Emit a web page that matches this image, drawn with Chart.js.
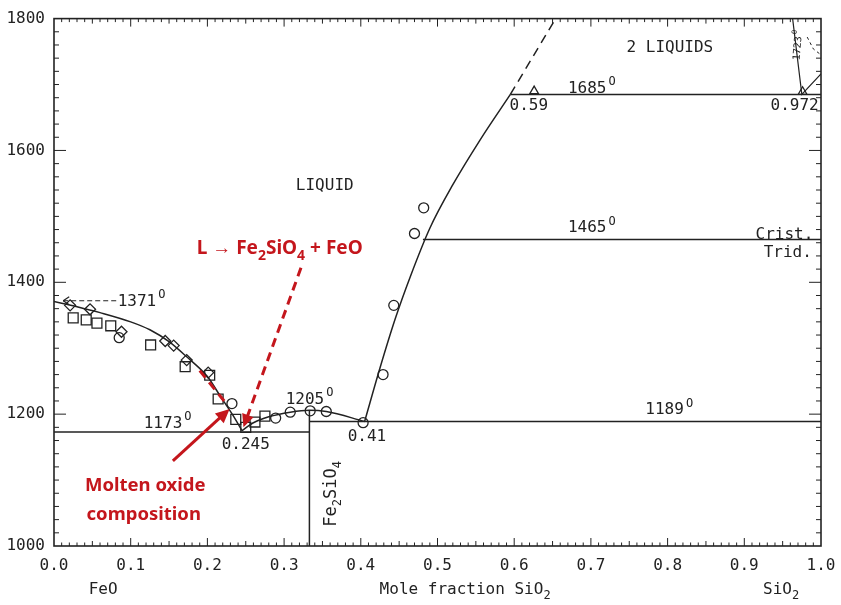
<!DOCTYPE html>
<html>
<head>
<meta charset="utf-8">
<script src="https://cdn.jsdelivr.net/npm/chart.js@4.4.1/dist/chart.umd.min.js"></script>
<style>
  html, body { margin: 0; padding: 0; background: #fff; }
</style>
</head>
<body>
<canvas id="c" width="841" height="605"></canvas>
<script>
// FeO - SiO2 phase diagram
var leftLiqX = [0, 0.03, 0.06, 0.1, 0.125, 0.15, 0.173, 0.2, 0.217, 0.234, 0.245];
var leftLiqY = [1371, 1363, 1354, 1340, 1328, 1310, 1287, 1257, 1227, 1197, 1175];
var fayLiqX = [0.245, 0.26, 0.28, 0.308, 0.333, 0.355, 0.405];
var fayLiqY = [1175, 1187, 1196, 1203, 1206, 1204, 1189];
var silLiqX = [0.405, 0.425, 0.445, 0.465, 0.49, 0.52, 0.555, 0.595];
var silLiqY = [1189, 1270, 1345, 1410, 1482, 1548, 1615, 1685];
var silDashX = [0.595, 0.654];
var silDashY = [1685, 1800];
var isoT = [1173, 1189, 1465, 1685];
var isoFrom = [0, 0.333, 0.481, 0.595];
var isoTo = [0.333, 1, 1, 1];
var compX = [0.333, 0.333];
var compY = [1000, 1206];
var feoMeltX = [0.012, 0.082];
var feoMeltY = [1372, 1372];
var cornerX = [0.963, 0.975, 1.0];
var cornerY = [1800, 1685, 1716];
var cornerDashX = [0.982, 0.99, 1.0];
var cornerDashY = [1772, 1754, 1745];

var squareX = [0.025, 0.042, 0.056, 0.074, 0.126, 0.171, 0.203, 0.214, 0.237, 0.25, 0.262, 0.275];
var squareY = [1346, 1343, 1338, 1334, 1305, 1272, 1259, 1223, 1192, 1180, 1188, 1197];
var diamondX = [0.021, 0.047, 0.088, 0.145, 0.156, 0.173, 0.201];
var diamondY = [1365, 1359, 1325, 1311, 1304, 1282, 1263];
var circleX = [0.085, 0.232, 0.289, 0.308, 0.334, 0.355, 0.403, 0.429, 0.443, 0.47, 0.482];
var circleY = [1316, 1216, 1194, 1203, 1205, 1204, 1187, 1260, 1365, 1474, 1513];
var triX = [0.626, 0.976];
var triY = [1690, 1689];

var redDashX = [0.322, 0.247];
var redDashY = [1422, 1180];
var redAlongX = [0.19, 0.226];
var redAlongY = [1266, 1214];
var redArrowX = [0.155, 0.229];
var redArrowY = [1129, 1208];

var xTicks = [0, 0.1, 0.2, 0.3, 0.4, 0.5, 0.6, 0.7, 0.8, 0.9, 1.0];
var yTicks = [1000, 1200, 1400, 1600, 1800];

var ink = '#222';
var red = '#c4161c';
var mono = '"DejaVu Sans Mono", "Liberation Mono", monospace';
var sans = '"Noto Sans", "Open Sans", sans-serif';

function pts(xs, ys) {
  return xs.map(function(x, i) { return { x: x, y: ys[i] }; });
}

function lineSet(xs, ys, extra) {
  var d = {
    data: pts(xs, ys),
    showLine: true,
    borderColor: ink,
    borderWidth: 1.5,
    pointRadius: 0,
    fill: false
  };
  for (var k in extra) d[k] = extra[k];
  return d;
}

function markSet(xs, ys, style, r) {
  return {
    data: pts(xs, ys),
    showLine: false,
    pointStyle: style,
    pointRadius: r,
    borderColor: ink,
    borderWidth: 1.3,
    backgroundColor: 'rgba(0,0,0,0)'
  };
}

var datasets = [
  lineSet(leftLiqX, leftLiqY, { cubicInterpolationMode: 'monotone' }),
  lineSet(fayLiqX, fayLiqY, { cubicInterpolationMode: 'monotone' }),
  lineSet(silLiqX, silLiqY, { cubicInterpolationMode: 'monotone' }),
  lineSet(silDashX, silDashY, { borderDash: [9, 6] }),
  lineSet(compX, compY, {}),
  lineSet(feoMeltX, feoMeltY, { borderDash: [5, 3], borderWidth: 1.2 }),
  lineSet(cornerX, cornerY, { borderWidth: 1.2 }),
  lineSet(cornerDashX, cornerDashY, { borderDash: [3, 3], borderWidth: 1 })
];
isoT.forEach(function(t, i) {
  datasets.push(lineSet([isoFrom[i], isoTo[i]], [t, t], {}));
});
datasets.push(markSet(squareX, squareY, 'rect', 7));
datasets.push(markSet(diamondX, diamondY, 'rectRot', 5.5));
datasets.push(markSet(circleX, circleY, 'circle', 5));
datasets.push(markSet(triX, triY, 'triangle', 5));

// texts placed in data coordinates (dy = pixels below the plot)
var notes = [
  { p: [['LIQUID']], x: 0.353, y: 1547, a: 'center' },
  { p: [['2 LIQUIDS']], x: 0.803, y: 1755, a: 'center' },
  { p: [['1685'], ['O', 2]], x: 0.670, y: 1694, a: 'left' },
  { p: [['0.59']], x: 0.594, y: 1667, a: 'left' },
  { p: [['0.972']], x: 0.997, y: 1667, a: 'right' },
  { p: [['1465'], ['O', 2]], x: 0.670, y: 1482, a: 'left' },
  { p: [['Crist.']], x: 0.990, y: 1472, a: 'right' },
  { p: [['Trid.']], x: 0.988, y: 1445, a: 'right' },
  { p: [['1189'], ['O', 2]], x: 0.771, y: 1206, a: 'left' },
  { p: [['1205'], ['O', 2]], x: 0.302, y: 1222, a: 'left' },
  { p: [['0.41']], x: 0.408, y: 1165, a: 'center' },
  { p: [['1173'], ['O', 2]], x: 0.117, y: 1186, a: 'left' },
  { p: [['0.245']], x: 0.250, y: 1153, a: 'center' },
  { p: [['1371'], ['O', 2]], x: 0.083, y: 1370, a: 'left' },
  { p: [['FeO']], x: 0.064, dy: 44, a: 'center' },
  { p: [['Mole fraction SiO'], ['2', 1]], x: 0.536, dy: 44, a: 'center' },
  { p: [['SiO'], ['2', 1]], x: 0.948, dy: 44, a: 'center' }
];

function drawParts(ctx, parts, x, y, size, align, family, weight) {
  weight = weight || 'normal';
  var fonts = parts.map(function(p) {
    var s = p[1] ? Math.round(size * 0.72) : size;
    return weight + ' ' + s + 'px ' + family;
  });
  var widths = parts.map(function(p, i) {
    ctx.font = fonts[i];
    return ctx.measureText(p[0]).width;
  });
  var total = widths.reduce(function(a, b) { return a + b; }, 0);
  var cx = align === 'center' ? x - total / 2 : (align === 'right' ? x - total : x);
  ctx.textAlign = 'left';
  ctx.textBaseline = 'middle';
  parts.forEach(function(p, i) {
    ctx.font = fonts[i];
    var off = p[1] === 1 ? size * 0.38 : (p[1] === 2 ? -size * 0.42 : 0);
    ctx.fillText(p[0], cx + (p[1] === 2 ? 2 : 0), y + off);
    cx += widths[i];
  });
}

function arrowHead(ctx, x1, y1, x2, y2, len, w) {
  var ang = Math.atan2(y2 - y1, x2 - x1);
  var c = Math.cos(ang), s = Math.sin(ang);
  ctx.beginPath();
  ctx.moveTo(x2, y2);
  ctx.lineTo(x2 - len * c + w * s, y2 - len * s - w * c);
  ctx.lineTo(x2 - len * c - w * s, y2 - len * s + w * c);
  ctx.closePath();
  ctx.fill();
}

var overlay = {
  id: 'overlay',
  afterDatasetsDraw: function(chart) {
    var ctx = chart.ctx, a = chart.chartArea;
    var xs = chart.scales.x, ys = chart.scales.y;
    function X(v) { return xs.getPixelForValue(v); }
    function Y(v) { return ys.getPixelForValue(v); }
    function seg(x1, y1, x2, y2) {
      ctx.beginPath(); ctx.moveTo(x1, y1); ctx.lineTo(x2, y2); ctx.stroke();
    }
    ctx.save();
    // frame and inward ticks on all sides
    ctx.strokeStyle = ink;
    ctx.lineWidth = 1.6;
    ctx.strokeRect(a.left, a.top, a.right - a.left, a.bottom - a.top);
    ctx.lineWidth = 1;
    for (var i = 1; i < 100; i++) {
      var px = X(i / 100);
      var len = i % 10 === 0 ? 8 : (i % 5 === 0 ? 5 : 3.5);
      seg(px, a.bottom, px, a.bottom - len);
      seg(px, a.top, px, a.top + len);
    }
    for (var v = 1020; v < 1800; v += 20) {
      var py = Y(v);
      var l2 = v % 200 === 0 ? 12 : 5;
      seg(a.left, py, a.left + l2, py);
      seg(a.right, py, a.right - l2, py);
    }
    // small arrow of the 1371 dashed line
    ctx.lineWidth = 1.2;
    var ax = X(feoMeltX[0]), ay = Y(feoMeltY[0]);
    seg(ax, ay, ax + 6, ay - 4);
    seg(ax, ay, ax + 6, ay + 4);

    // texts
    ctx.fillStyle = ink;
    notes.forEach(function(n) {
      var y = n.dy !== undefined ? a.bottom + n.dy : Y(n.y);
      drawParts(ctx, n.p, X(n.x), y, 16, n.a, mono);
    });
    // rotated compound label
    ctx.save();
    ctx.translate(X(0.362), Y(1079));
    ctx.rotate(-Math.PI / 2);
    drawParts(ctx, [['Fe'], ['2', 1], ['SiO'], ['4', 1]], 0, 0, 17, 'center', mono);
    ctx.restore();
    ctx.save();
    ctx.translate(X(0.970), Y(1758));
    ctx.rotate(-Math.PI / 2 + 0.08);
    drawParts(ctx, [['1723'], ['O', 2]], 0, 0, 10, 'center', mono);
    ctx.restore();

    // red annotations
    ctx.strokeStyle = red;
    ctx.fillStyle = red;
    ctx.lineWidth = 3;
    ctx.setLineDash([9, 6]);
    var d1x = X(redDashX[0]), d1y = Y(redDashY[0]), d2x = X(redDashX[1]), d2y = Y(redDashY[1]);
    var ang = Math.atan2(d2y - d1y, d2x - d1x);
    seg(d1x, d1y, d2x - 10 * Math.cos(ang), d2y - 10 * Math.sin(ang));
    var e1x = X(redAlongX[0]), e1y = Y(redAlongY[0]), e2x = X(redAlongX[1]), e2y = Y(redAlongY[1]);
    seg(e1x, e1y, e2x, e2y);
    ctx.setLineDash([]);
    arrowHead(ctx, d1x, d1y, d2x, d2y, 13, 6);
    var s1x = X(redArrowX[0]), s1y = Y(redArrowY[0]), s2x = X(redArrowX[1]), s2y = Y(redArrowY[1]);
    var ang2 = Math.atan2(s2y - s1y, s2x - s1x);
    seg(s1x, s1y, s2x - 10 * Math.cos(ang2), s2y - 10 * Math.sin(ang2));
    arrowHead(ctx, s1x, s1y, s2x, s2y, 14, 6.5);

    drawParts(ctx, [['L \u2192 Fe'], ['2', 1], ['SiO'], ['4', 1], [' + FeO']], X(0.186), Y(1451), 19, 'left', sans, 'bold');
    drawParts(ctx, [['Molten oxide']], X(0.119), Y(1092), 18.5, 'center', sans, 'bold');
    drawParts(ctx, [['composition']], X(0.117), Y(1047), 18.5, 'center', sans, 'bold');
    ctx.restore();
  }
};

new Chart(document.getElementById('c').getContext('2d'), {
  type: 'scatter',
  data: { datasets: datasets },
  options: {
    responsive: false,
    animation: false,
    events: [],
    layout: { padding: { top: 17, right: 20, left: 0, bottom: 0 } },
    plugins: { legend: { display: false }, tooltip: { enabled: false } },
    scales: {
      x: {
        type: 'linear', min: 0, max: 1,
        grid: { display: false, drawTicks: false },
        border: { display: false },
        afterBuildTicks: function(s) { s.ticks = xTicks.map(function(v) { return { value: v }; }); },
        ticks: {
          padding: 10, color: ink, maxRotation: 0, autoSkip: false,
          font: { family: mono, size: 16 },
          callback: function(v) { return Number(v).toFixed(1); }
        },
        afterFit: function(s) { s.height = 59; s.paddingRight = 0; }
      },
      y: {
        type: 'linear', min: 1000, max: 1800,
        grid: { display: false, drawTicks: false },
        border: { display: false },
        afterBuildTicks: function(s) { s.ticks = yTicks.map(function(v) { return { value: v }; }); },
        ticks: {
          padding: 9, color: ink, autoSkip: false,
          font: { family: mono, size: 16 },
          callback: function(v) { return String(v); }
        },
        afterFit: function(s) { s.width = 54; }
      }
    }
  },
  plugins: [overlay]
});
</script>
</body>
</html>
